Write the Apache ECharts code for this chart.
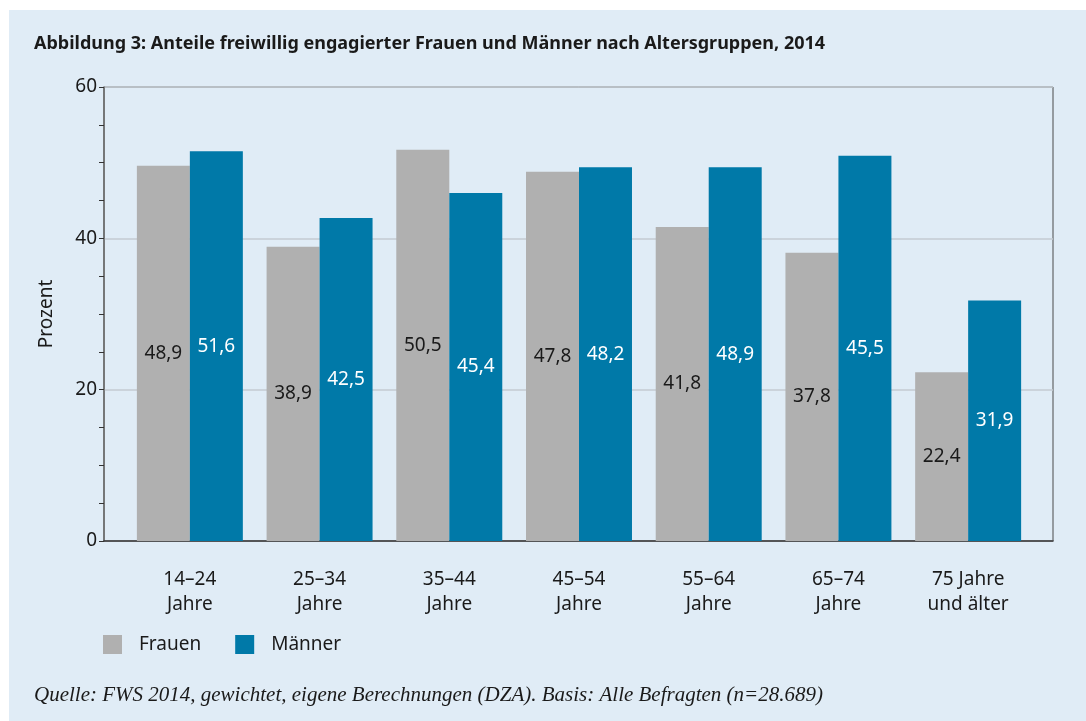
<!doctype html>
<html>
<head>
<meta charset="utf-8">
<title>Abbildung 3</title>
<script src="https://cdn.jsdelivr.net/npm/echarts@6/dist/echarts.min.js"></script>
<style>
  html, body { margin: 0; padding: 0; background: #ffffff; }
  #chart { position: absolute; left: 9px; top: 10px; width: 1077px; height: 711px; }
</style>
</head>
<body>
<div id="chart"></div>
<script>
// Altersgruppen
var gruppen = ['14\u201324\nJahre', '25\u201334\nJahre', '35\u201344\nJahre', '45\u201354\nJahre',
               '55\u201364\nJahre', '65\u201374\nJahre', '75 Jahre\nund älter'];
// Balkenhöhen
var frauenWerte = [49.6, 38.9, 51.7, 48.8, 41.5, 38.1, 22.3];
var maennerWerte = [51.5, 42.7, 46.0, 49.4, 49.4, 50.9, 31.8];
// beschriftete Werte
var frauenText = ['48,9', '38,9', '50,5', '47,8', '41,8', '37,8', '22,4'];
var maennerText = ['51,6', '42,5', '45,4', '48,2', '48,9', '45,5', '31,9'];
var yTicks = [0, 20, 40, 60];

var font = '"Noto Sans", sans-serif';
var chart = echarts.init(document.getElementById('chart'));

var option = {
    backgroundColor: '#e0ecf6',
    animation: false,
    title: {
        text: 'Abbildung 3: Anteile freiwillig engagierter Frauen und Männer nach Altersgruppen, 2014',
        left: 20,
        top: 20,
        textStyle: { fontFamily: font, fontSize: 18, fontWeight: 'bold', color: '#1a1a1a' }
    },
    legend: {
        left: 89,
        top: 620,
        itemWidth: 19,
        itemHeight: 19,
        itemGap: 34,
        icon: 'rect',
        data: ['Frauen', 'Männer'],
        textStyle: { fontFamily: font, fontSize: 19, color: '#1a1a1a', padding: [0, 0, 0, 12] }
    },
    // grid 0: Rahmen, y-Achse, Hilfslinien; grid 1: Balken (etwas eingerückt)
    grid: [
        {
            left: 95, right: 33, top: 77, bottom: 180,
            show: true, borderColor: '#4a4a4a', borderWidth: 1, backgroundColor: 'transparent'
        },
        { left: 116, right: 53, top: 77, bottom: 180 }
    ],
    xAxis: [
        {
            type: 'value', gridIndex: 0, min: 0, max: 1,
            axisLine: { show: true, lineStyle: { color: '#333', width: 1.5 } },
            axisTick: { show: false },
            axisLabel: { show: false },
            splitLine: { show: false }
        },
        {
            type: 'category', gridIndex: 1,
            data: gruppen,
            axisLine: { show: false },
            axisTick: { show: false },
            axisLabel: {
                margin: 26,
                fontFamily: font,
                fontSize: 19,
                lineHeight: 25,
                color: '#1a1a1a'
            }
        }
    ],
    yAxis: [
        {
            type: 'value', gridIndex: 0,
            min: yTicks[0],
            max: yTicks[yTicks.length - 1],
            interval: 20,
            name: 'Prozent',
            nameLocation: 'middle',
            nameGap: 48,
            nameTextStyle: { fontFamily: font, fontSize: 19, color: '#1a1a1a' },
            axisLine: { show: true, lineStyle: { color: '#6b6b6b', width: 1.5 } },
            axisTick: { show: true, length: 5, lineStyle: { color: '#333' } },
            minorTick: { show: true, splitNumber: 4, length: 5, lineStyle: { color: '#333' } },
            splitLine: { show: true, lineStyle: { color: '#c4cbd2', width: 1.5 } },
            axisLabel: { margin: 7, fontFamily: font, fontSize: 19, color: '#1a1a1a' }
        },
        {
            type: 'value', gridIndex: 1,
            min: yTicks[0],
            max: yTicks[yTicks.length - 1],
            show: false
        }
    ],
    series: [
        {
            name: 'Frauen',
            type: 'bar',
            xAxisIndex: 1, yAxisIndex: 1,
            data: frauenWerte,
            barGap: '0%',
            barCategoryGap: '18.3%',
            itemStyle: { color: '#b0b0b0' },
            label: {
                show: true,
                position: 'inside',
                fontFamily: font,
                fontSize: 19,
                color: '#1a1a1a',
                formatter: function (p) { return frauenText[p.dataIndex]; }
            }
        },
        {
            name: 'Männer',
            type: 'bar',
            xAxisIndex: 1, yAxisIndex: 1,
            data: maennerWerte,
            itemStyle: { color: '#0079a8' },
            label: {
                show: true,
                position: 'inside',
                fontFamily: font,
                fontSize: 19,
                color: '#ffffff',
                formatter: function (p) { return maennerText[p.dataIndex]; }
            }
        }
    ],
    graphic: [
        {
            type: 'text',
            left: 25,
            top: 675,
            style: {
                text: 'Quelle: FWS 2014, gewichtet, eigene Berechnungen (DZA). Basis: Alle Befragten (n=28.689)',
                font: 'italic 21px "Liberation Serif", serif',
                fill: '#1a1a1a'
            }
        }
    ]
};

chart.setOption(option);
</script>
</body>
</html>
